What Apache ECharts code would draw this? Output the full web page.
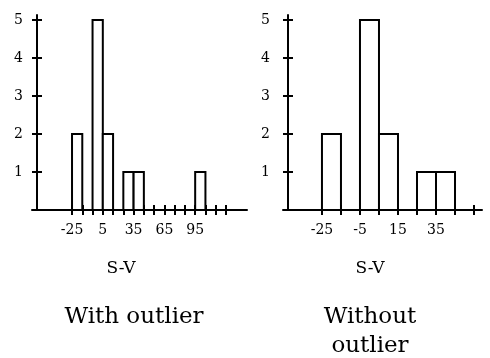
<!DOCTYPE html>
<html>
<head>
    <meta charset="utf-8">
    <title>S-V histograms</title>
    <script src="https://cdn.jsdelivr.net/npm/echarts@6.0.0/dist/echarts.min.js"></script>
    <style>
        html, body { margin: 0; padding: 0; background: #fff; }
        #main { width: 490px; height: 358px; }
    </style>
</head>
<body>
<div id="main"></div>
<script>
    // histogram data, bin width 10
    var binWidth = 10;
    var withStarts = [-25, -5, 5, 25, 35, 95];
    var withCounts = [2, 5, 2, 1, 1, 1];
    var withoutStarts = [-25, -5, 5, 25, 35];
    var withoutCounts = [2, 5, 2, 1, 1];

    // tick marks and labels
    var withTicks = [-25, -15, -5, 5, 15, 25, 35, 45, 55, 65, 75, 85, 95, 105, 115, 125];
    var withLabels = [-25, 5, 35, 65, 95];
    var withoutTicks = [-25, -15, -5, 5, 15, 25, 35, 45, 55];
    var withoutLabels = [-25, -5, 15, 35];
    var yTicks = [1, 2, 3, 4, 5];

    var serif = 'DejaVu Serif';

    function bins(starts, counts) {
        return starts.map(function (s, i) { return [s, s + binWidth, counts[i]]; });
    }

    function renderItem(params, api) {
        var p0 = api.coord([api.value(0), api.value(2)]);
        var p1 = api.coord([api.value(1), 0]);
        return {
            type: 'rect',
            shape: {x: p0[0], y: p0[1], width: p1[0] - p0[0], height: p1[1] - p0[1]},
            style: {fill: '#fff', stroke: '#000', lineWidth: 2}
        };
    }

    // two axes per grid so the ticks cross the axis line
    function xAxes(grid, min, max, ticks, labels) {
        var base = {
            type: 'value', gridIndex: grid, position: 'bottom', min: min, max: max,
            splitLine: {show: false}
        };
        return [
            Object.assign({}, base, {
                axisLine: {show: true, onZero: false, lineStyle: {color: '#000', width: 2}},
                axisTick: {show: true, customValues: ticks, length: 5, inside: false, lineStyle: {color: '#000', width: 2}},
                axisLabel: {show: true, customValues: labels, margin: 13, color: '#000', fontFamily: serif, fontSize: 14}
            }),
            Object.assign({}, base, {
                axisLine: {show: false, onZero: false},
                axisTick: {show: true, customValues: ticks, length: 5, inside: true, lineStyle: {color: '#000', width: 2}},
                axisLabel: {show: false}
            })
        ];
    }

    function yAxes(grid, margin) {
        var base = {
            type: 'value', gridIndex: grid, position: 'left', min: 0, max: 5.13, offset: -5,
            splitLine: {show: false}
        };
        return [
            Object.assign({}, base, {
                axisLine: {show: true, onZero: false, lineStyle: {color: '#000', width: 2}},
                axisTick: {show: true, customValues: yTicks, length: 5, inside: false, lineStyle: {color: '#000', width: 2}},
                axisLabel: {show: true, customValues: yTicks, margin: margin, color: '#000', fontFamily: serif, fontSize: 14}
            }),
            Object.assign({}, base, {
                axisLine: {show: false, onZero: false},
                axisTick: {show: true, customValues: yTicks, length: 5, inside: true, lineStyle: {color: '#000', width: 2}},
                axisLabel: {show: false}
            })
        ];
    }

    function caption(text, x, y, size) {
        return {
            type: 'text', x: x, y: y,
            style: {text: text, fill: '#000', font: size + 'px "' + serif + '"', textAlign: 'center', textVerticalAlign: 'middle'}
        };
    }

    var chart = echarts.init(document.getElementById('main'), null, {renderer: 'canvas'});

    var option = {
        animation: false,
        backgroundColor: '#fff',
        grid: [
            {left: 32, top: 15, width: 215, height: 195},
            {left: 283, top: 15, width: 199, height: 195}
        ],
        xAxis: xAxes(0, -64, 145.5, withTicks, withLabels).concat(xAxes(1, -45.5, 59.2, withoutTicks, withoutLabels)),
        yAxis: yAxes(0, 14).concat(yAxes(1, 18)),
        series: [
            {
                type: 'custom', xAxisIndex: 0, yAxisIndex: 0,
                renderItem: renderItem, encode: {x: [0, 1], y: 2},
                data: bins(withStarts, withCounts)
            },
            {
                type: 'custom', xAxisIndex: 2, yAxisIndex: 2,
                renderItem: renderItem, encode: {x: [0, 1], y: 2},
                data: bins(withoutStarts, withoutCounts)
            }
        ],
        graphic: [
            caption('S-V', 121, 269, 17),
            caption('S-V', 370, 269, 17),
            caption('With outlier', 134, 317, 23),
            caption('Without', 370, 317, 23),
            caption('outlier', 370, 346, 23)
        ]
    };

    chart.setOption(option);
</script>
</body>
</html>
